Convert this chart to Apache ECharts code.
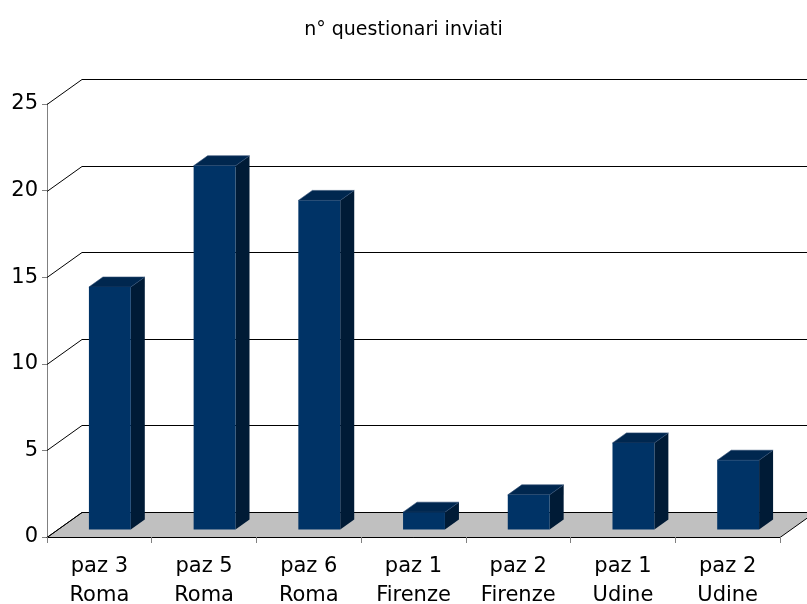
<!DOCTYPE html>
<html>
<head>
<meta charset="utf-8">
<title>n° questionari inviati</title>
<script src="https://cdn.jsdelivr.net/npm/echarts@6/dist/echarts.min.js"></script>
<style>
  html, body { margin: 0; padding: 0; background: #ffffff; }
  #chart { width: 807px; height: 604px; }
</style>
</head>
<body>
<div id="chart"></div>
<script>
// Chart data
const chartTitle = 'n° questionari inviati';
const categories = ['paz 3\nRoma', 'paz 5\nRoma', 'paz 6\nRoma', 'paz 1\nFirenze', 'paz 2\nFirenze', 'paz 1\nUdine', 'paz 2\nUdine'];
const questionari = [14, 21, 19, 1, 2, 5, 4];
const yTicks = [0, 5, 10, 15, 20, 25];

// Pseudo-3D geometry (pixels): full depth of the chart box and depth of each bar
const DEPTH_X = 35, DEPTH_Y = -25;
const BAR_DX = 14, BAR_DY = -10;
const BAR_RATIO = 0.4;

const FONT = 'DejaVu Sans';

const chart = echarts.init(document.getElementById('chart'), null, { renderer: 'canvas' });

// Back wall grid lines: oblique segment from the front axis, then horizontal along the back plane
function renderWall(params, api) {
  const cs = params.coordSys;
  const v = api.value(1);
  const y = Math.round(api.coord([0, v])[1]) + 0.5;
  const x0 = cs.x;
  const x1 = cs.x + cs.width;
  return {
    type: 'polyline',
    shape: { points: [[x0, y], [x0 + DEPTH_X, y + DEPTH_Y], [x1 + DEPTH_X + 20, y + DEPTH_Y]] },
    style: { stroke: '#000000', lineWidth: 1, fill: null }
  };
}

// Grey floor under the bars
function renderFloor(params, api) {
  const cs = params.coordSys;
  const y = Math.round(api.coord([0, api.value(1)])[1]) + 0.5;
  const x0 = cs.x, x1 = cs.x + cs.width;
  return {
    type: 'polygon',
    shape: { points: [[x0, y], [x1, y], [x1 + DEPTH_X, y + DEPTH_Y], [x0 + DEPTH_X, y + DEPTH_Y]] },
    style: { fill: '#c0c0c0', stroke: '#000000', lineWidth: 1 }
  };
}

// Box-shaped bar: front face, right side and top
function renderBar(params, api) {
  const idx = api.value(0);
  const val = api.value(1);
  const base = api.coord([idx, 0]);
  const top = api.coord([idx, val]);
  const band = api.size([1, 0])[0];
  const w = band * BAR_RATIO;
  const offX = (DEPTH_X - BAR_DX) / 2;
  const offY = (DEPTH_Y - BAR_DY) / 2;
  const x0 = base[0] + offX - w / 2;
  const x1 = x0 + w;
  const yb = base[1] + offY;
  const yt = top[1] + offY;
  return {
    type: 'group',
    children: [
      {
        type: 'polygon',
        shape: { points: [[x1, yb], [x1 + BAR_DX, yb + BAR_DY], [x1 + BAR_DX, yt + BAR_DY], [x1, yt]] },
        style: { fill: '#001b36' }
      },
      {
        type: 'polygon',
        shape: { points: [[x0, yt], [x0 + BAR_DX, yt + BAR_DY], [x1 + BAR_DX, yt + BAR_DY], [x1, yt]] },
        style: { fill: '#00274f', stroke: '#2b4a70', lineWidth: 0.6 }
      },
      {
        type: 'rect',
        shape: { x: x0, y: yt, width: w, height: yb - yt },
        style: { fill: '#003366' }
      }
    ]
  };
}

chart.setOption({
  animation: false,
  backgroundColor: '#ffffff',
  title: {
    text: chartTitle,
    left: 'center',
    top: 16,
    textStyle: { fontFamily: FONT, fontSize: 19, fontWeight: 'normal', color: '#000000' }
  },
  grid: { left: 47, right: 27, top: 104, bottom: 67, containLabel: false, outerBoundsMode: 'none' },
  xAxis: {
    type: 'category',
    data: categories,
    boundaryGap: true,
    axisLine: { show: true, lineStyle: { color: '#000000', width: 1 } },
    axisTick: { show: true, length: 6, alignWithLabel: false, lineStyle: { color: '#808080' } },
    axisLabel: {
      fontFamily: FONT, fontSize: 21, color: '#000000',
      lineHeight: 29, margin: 15, interval: 0
    },
    splitLine: { show: false },
    z: 3
  },
  yAxis: {
    type: 'value',
    min: 0,
    max: 25,
    interval: 5,
    axisLine: { show: true, lineStyle: { color: '#808080', width: 1 } },
    axisTick: { show: true, length: 5, lineStyle: { color: '#808080' } },
    axisLabel: { fontFamily: FONT, fontSize: 21, color: '#000000', margin: 9 },
    splitLine: { show: false }
  },
  series: [
    {
      type: 'custom',
      name: 'floor',
      renderItem: renderFloor,
      data: [[0, yTicks[0]]],
      encode: { x: 0, y: 1 },
      silent: true,
      z: 1
    },
    {
      type: 'custom',
      name: 'wall',
      renderItem: renderWall,
      data: yTicks.map(v => [0, v]),
      encode: { x: 0, y: 1 },
      silent: true,
      z: 2
    },
    {
      type: 'custom',
      name: 'questionari',
      renderItem: renderBar,
      data: questionari.map((v, i) => [i, v]),
      encode: { x: 0, y: 1 },
      z: 4
    }
  ]
});
</script>
</body>
</html>
